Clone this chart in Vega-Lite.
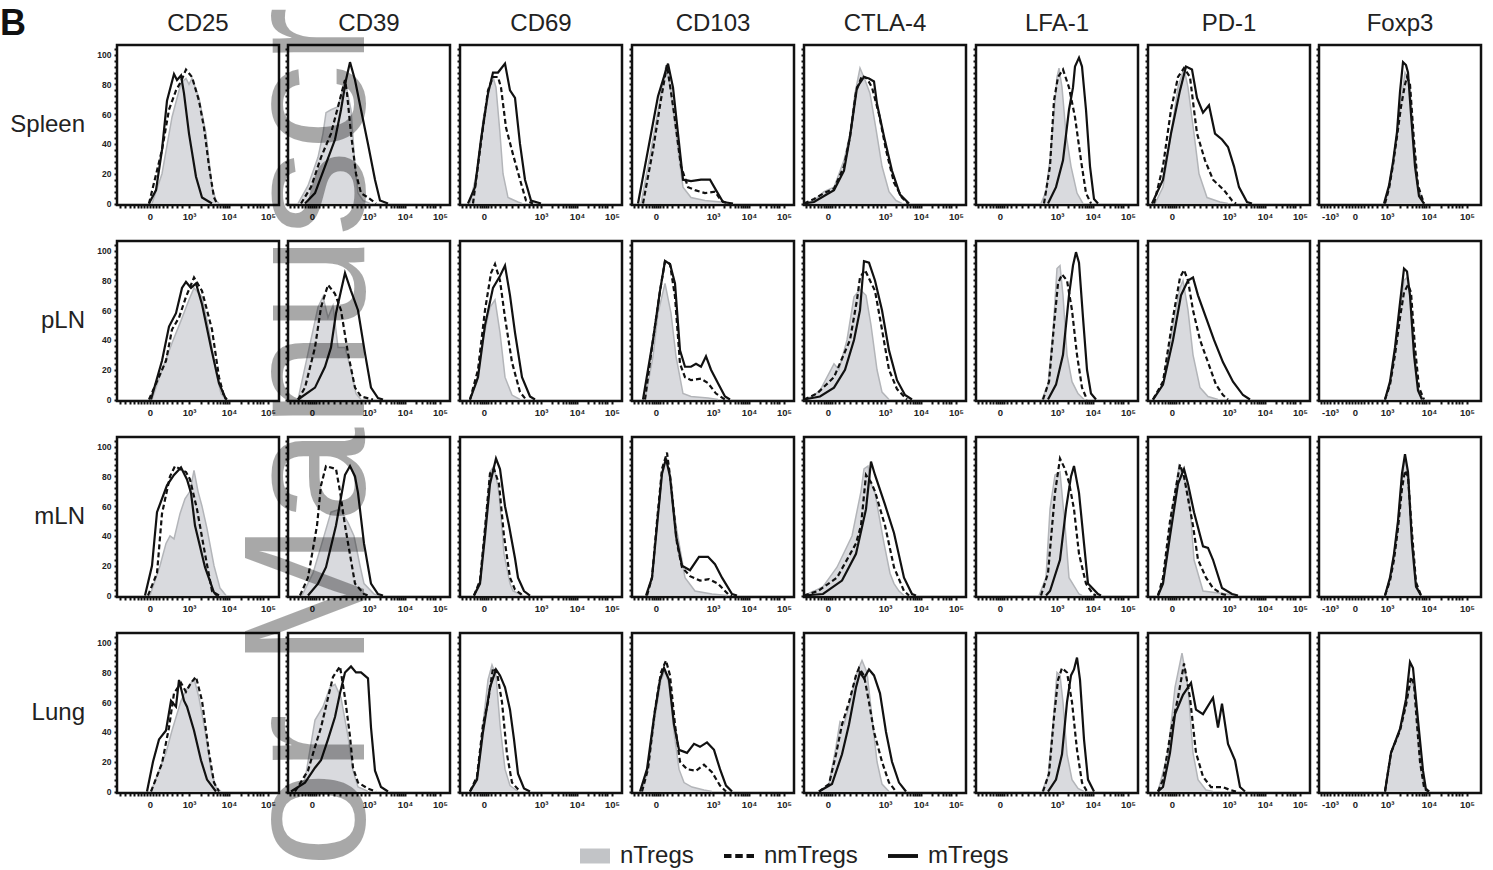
{
"$schema": "https://vega.github.io/schema/vega-lite/v6.json",
"padding": {"left": 0, "top": 6, "right": 0, "bottom": 0},
"background": "white",
"title": {"text": "or Manuscr", "orient": "left", "anchor": "middle", "frame": "bounds", "baseline": "alphabetic", "fontSize": 172, "fontWeight": "normal", "color": "rgba(0,0,0,0.34)", "font": "Liberation Sans", "offset": -536, "zindex": 1},
"config": {
 "font": "Liberation Sans",
 "view": {"stroke": "#111", "strokeWidth": 2.5},
 "axis": {"domain": false, "grid": false, "tickColor": "#111", "tickWidth": 2, "tickSize": 3, "labelFont": "Liberation Sans", "labelFontSize": 9.5, "labelFontWeight": "bold", "labelColor": "#222", "title": null, "labelOverlap": false, "labelFlush": false, "labelPadding": 3},
 "header": {"labelFont": "Liberation Sans", "labelFontSize": 24, "labelColor": "#222"}
},
"data": {"values": [
{"m":"CD25","t":"Spleen","s":"n","x":35,"y":0},{"m":"CD25","t":"Spleen","s":"n","x":45,"y":20},{"m":"CD25","t":"Spleen","s":"n","x":55,"y":58},{"m":"CD25","t":"Spleen","s":"n","x":64,"y":81},{"m":"CD25","t":"Spleen","s":"n","x":69,"y":84},{"m":"CD25","t":"Spleen","s":"n","x":72,"y":80},{"m":"CD25","t":"Spleen","s":"n","x":75,"y":84},{"m":"CD25","t":"Spleen","s":"n","x":82,"y":71},{"m":"CD25","t":"Spleen","s":"n","x":89,"y":47},{"m":"CD25","t":"Spleen","s":"n","x":95,"y":11},{"m":"CD25","t":"Spleen","s":"n","x":99,"y":2},{"m":"CD25","t":"Spleen","s":"n","x":102,"y":0},
{"m":"CD25","t":"Spleen","s":"nm","x":32,"y":0},{"m":"CD25","t":"Spleen","s":"nm","x":45,"y":36},{"m":"CD25","t":"Spleen","s":"nm","x":52,"y":63},{"m":"CD25","t":"Spleen","s":"nm","x":59,"y":76},{"m":"CD25","t":"Spleen","s":"nm","x":64,"y":82},{"m":"CD25","t":"Spleen","s":"nm","x":69,"y":90},{"m":"CD25","t":"Spleen","s":"nm","x":75,"y":85},{"m":"CD25","t":"Spleen","s":"nm","x":82,"y":69},{"m":"CD25","t":"Spleen","s":"nm","x":87,"y":51},{"m":"CD25","t":"Spleen","s":"nm","x":92,"y":25},{"m":"CD25","t":"Spleen","s":"nm","x":97,"y":4},{"m":"CD25","t":"Spleen","s":"nm","x":100,"y":0},
{"m":"CD25","t":"Spleen","s":"m","x":32,"y":0},{"m":"CD25","t":"Spleen","s":"m","x":39,"y":9},{"m":"CD25","t":"Spleen","s":"m","x":45,"y":36},{"m":"CD25","t":"Spleen","s":"m","x":50,"y":69},{"m":"CD25","t":"Spleen","s":"m","x":57,"y":87},{"m":"CD25","t":"Spleen","s":"m","x":60,"y":83},{"m":"CD25","t":"Spleen","s":"m","x":64,"y":86},{"m":"CD25","t":"Spleen","s":"m","x":67,"y":74},{"m":"CD25","t":"Spleen","s":"m","x":72,"y":47},{"m":"CD25","t":"Spleen","s":"m","x":79,"y":18},{"m":"CD25","t":"Spleen","s":"m","x":85,"y":4},{"m":"CD25","t":"Spleen","s":"m","x":95,"y":0},
{"m":"CD25","t":"pLN","s":"n","x":35,"y":0},{"m":"CD25","t":"pLN","s":"n","x":45,"y":20},{"m":"CD25","t":"pLN","s":"n","x":55,"y":38},{"m":"CD25","t":"pLN","s":"n","x":64,"y":53},{"m":"CD25","t":"pLN","s":"n","x":72,"y":67},{"m":"CD25","t":"pLN","s":"n","x":77,"y":75},{"m":"CD25","t":"pLN","s":"n","x":85,"y":69},{"m":"CD25","t":"pLN","s":"n","x":92,"y":47},{"m":"CD25","t":"pLN","s":"n","x":99,"y":18},{"m":"CD25","t":"pLN","s":"n","x":104,"y":4},{"m":"CD25","t":"pLN","s":"n","x":109,"y":0},
{"m":"CD25","t":"pLN","s":"nm","x":32,"y":0},{"m":"CD25","t":"pLN","s":"nm","x":49,"y":26},{"m":"CD25","t":"pLN","s":"nm","x":55,"y":47},{"m":"CD25","t":"pLN","s":"nm","x":62,"y":55},{"m":"CD25","t":"pLN","s":"nm","x":69,"y":69},{"m":"CD25","t":"pLN","s":"nm","x":77,"y":82},{"m":"CD25","t":"pLN","s":"nm","x":85,"y":73},{"m":"CD25","t":"pLN","s":"nm","x":95,"y":47},{"m":"CD25","t":"pLN","s":"nm","x":102,"y":15},{"m":"CD25","t":"pLN","s":"nm","x":107,"y":2},{"m":"CD25","t":"pLN","s":"nm","x":110,"y":0},
{"m":"CD25","t":"pLN","s":"m","x":34,"y":0},{"m":"CD25","t":"pLN","s":"m","x":45,"y":26},{"m":"CD25","t":"pLN","s":"m","x":52,"y":49},{"m":"CD25","t":"pLN","s":"m","x":59,"y":58},{"m":"CD25","t":"pLN","s":"m","x":65,"y":75},{"m":"CD25","t":"pLN","s":"m","x":69,"y":79},{"m":"CD25","t":"pLN","s":"m","x":74,"y":75},{"m":"CD25","t":"pLN","s":"m","x":79,"y":78},{"m":"CD25","t":"pLN","s":"m","x":85,"y":64},{"m":"CD25","t":"pLN","s":"m","x":94,"y":35},{"m":"CD25","t":"pLN","s":"m","x":102,"y":11},{"m":"CD25","t":"pLN","s":"m","x":109,"y":0},
{"m":"CD25","t":"mLN","s":"n","x":33,"y":0},{"m":"CD25","t":"mLN","s":"n","x":43,"y":20},{"m":"CD25","t":"mLN","s":"n","x":49,"y":35},{"m":"CD25","t":"mLN","s":"n","x":53,"y":40},{"m":"CD25","t":"mLN","s":"n","x":57,"y":38},{"m":"CD25","t":"mLN","s":"n","x":63,"y":55},{"m":"CD25","t":"mLN","s":"n","x":68,"y":65},{"m":"CD25","t":"mLN","s":"n","x":73,"y":70},{"m":"CD25","t":"mLN","s":"n","x":77,"y":84},{"m":"CD25","t":"mLN","s":"n","x":81,"y":70},{"m":"CD25","t":"mLN","s":"n","x":85,"y":60},{"m":"CD25","t":"mLN","s":"n","x":90,"y":45},{"m":"CD25","t":"mLN","s":"n","x":97,"y":20},{"m":"CD25","t":"mLN","s":"n","x":103,"y":5},{"m":"CD25","t":"mLN","s":"n","x":109,"y":0},
{"m":"CD25","t":"mLN","s":"nm","x":31,"y":0},{"m":"CD25","t":"mLN","s":"nm","x":40,"y":15},{"m":"CD25","t":"mLN","s":"nm","x":45,"y":55},{"m":"CD25","t":"mLN","s":"nm","x":53,"y":80},{"m":"CD25","t":"mLN","s":"nm","x":58,"y":87},{"m":"CD25","t":"mLN","s":"nm","x":63,"y":85},{"m":"CD25","t":"mLN","s":"nm","x":69,"y":83},{"m":"CD25","t":"mLN","s":"nm","x":73,"y":78},{"m":"CD25","t":"mLN","s":"nm","x":80,"y":58},{"m":"CD25","t":"mLN","s":"nm","x":88,"y":28},{"m":"CD25","t":"mLN","s":"nm","x":95,"y":3},{"m":"CD25","t":"mLN","s":"nm","x":100,"y":0},
{"m":"CD25","t":"mLN","s":"m","x":28,"y":0},{"m":"CD25","t":"mLN","s":"m","x":35,"y":20},{"m":"CD25","t":"mLN","s":"m","x":40,"y":56},{"m":"CD25","t":"mLN","s":"m","x":50,"y":74},{"m":"CD25","t":"mLN","s":"m","x":57,"y":81},{"m":"CD25","t":"mLN","s":"m","x":64,"y":86},{"m":"CD25","t":"mLN","s":"m","x":70,"y":78},{"m":"CD25","t":"mLN","s":"m","x":74,"y":69},{"m":"CD25","t":"mLN","s":"m","x":78,"y":47},{"m":"CD25","t":"mLN","s":"m","x":88,"y":19},{"m":"CD25","t":"mLN","s":"m","x":97,"y":2},{"m":"CD25","t":"mLN","s":"m","x":102,"y":0},
{"m":"CD25","t":"Lung","s":"n","x":34,"y":0},{"m":"CD25","t":"Lung","s":"n","x":42,"y":14},{"m":"CD25","t":"Lung","s":"n","x":49,"y":26},{"m":"CD25","t":"Lung","s":"n","x":55,"y":41},{"m":"CD25","t":"Lung","s":"n","x":64,"y":61},{"m":"CD25","t":"Lung","s":"n","x":69,"y":68},{"m":"CD25","t":"Lung","s":"n","x":74,"y":73},{"m":"CD25","t":"Lung","s":"n","x":77,"y":76},{"m":"CD25","t":"Lung","s":"n","x":82,"y":63},{"m":"CD25","t":"Lung","s":"n","x":89,"y":37},{"m":"CD25","t":"Lung","s":"n","x":94,"y":14},{"m":"CD25","t":"Lung","s":"n","x":99,"y":3},{"m":"CD25","t":"Lung","s":"n","x":104,"y":0},
{"m":"CD25","t":"Lung","s":"nm","x":34,"y":0},{"m":"CD25","t":"Lung","s":"nm","x":45,"y":19},{"m":"CD25","t":"Lung","s":"nm","x":52,"y":43},{"m":"CD25","t":"Lung","s":"nm","x":57,"y":66},{"m":"CD25","t":"Lung","s":"nm","x":64,"y":73},{"m":"CD25","t":"Lung","s":"nm","x":69,"y":67},{"m":"CD25","t":"Lung","s":"nm","x":74,"y":73},{"m":"CD25","t":"Lung","s":"nm","x":79,"y":77},{"m":"CD25","t":"Lung","s":"nm","x":85,"y":61},{"m":"CD25","t":"Lung","s":"nm","x":92,"y":26},{"m":"CD25","t":"Lung","s":"nm","x":97,"y":6},{"m":"CD25","t":"Lung","s":"nm","x":102,"y":0},
{"m":"CD25","t":"Lung","s":"m","x":30,"y":0},{"m":"CD25","t":"Lung","s":"m","x":36,"y":20},{"m":"CD25","t":"Lung","s":"m","x":42,"y":35},{"m":"CD25","t":"Lung","s":"m","x":49,"y":41},{"m":"CD25","t":"Lung","s":"m","x":54,"y":61},{"m":"CD25","t":"Lung","s":"m","x":59,"y":57},{"m":"CD25","t":"Lung","s":"m","x":62,"y":75},{"m":"CD25","t":"Lung","s":"m","x":67,"y":61},{"m":"CD25","t":"Lung","s":"m","x":70,"y":57},{"m":"CD25","t":"Lung","s":"m","x":77,"y":41},{"m":"CD25","t":"Lung","s":"m","x":84,"y":21},{"m":"CD25","t":"Lung","s":"m","x":90,"y":8},{"m":"CD25","t":"Lung","s":"m","x":99,"y":0},
{"m":"CD39","t":"Spleen","s":"n","x":10,"y":0},{"m":"CD39","t":"Spleen","s":"n","x":20,"y":12},{"m":"CD39","t":"Spleen","s":"n","x":30,"y":31},{"m":"CD39","t":"Spleen","s":"n","x":35,"y":47},{"m":"CD39","t":"Spleen","s":"n","x":38,"y":61},{"m":"CD39","t":"Spleen","s":"n","x":43,"y":63},{"m":"CD39","t":"Spleen","s":"n","x":50,"y":65},{"m":"CD39","t":"Spleen","s":"n","x":57,"y":83},{"m":"CD39","t":"Spleen","s":"n","x":63,"y":63},{"m":"CD39","t":"Spleen","s":"n","x":67,"y":25},{"m":"CD39","t":"Spleen","s":"n","x":70,"y":7},{"m":"CD39","t":"Spleen","s":"n","x":75,"y":2},{"m":"CD39","t":"Spleen","s":"n","x":82,"y":0},
{"m":"CD39","t":"Spleen","s":"nm","x":13,"y":0},{"m":"CD39","t":"Spleen","s":"nm","x":23,"y":11},{"m":"CD39","t":"Spleen","s":"nm","x":33,"y":31},{"m":"CD39","t":"Spleen","s":"nm","x":43,"y":47},{"m":"CD39","t":"Spleen","s":"nm","x":50,"y":65},{"m":"CD39","t":"Spleen","s":"nm","x":57,"y":83},{"m":"CD39","t":"Spleen","s":"nm","x":59,"y":74},{"m":"CD39","t":"Spleen","s":"nm","x":63,"y":47},{"m":"CD39","t":"Spleen","s":"nm","x":68,"y":20},{"m":"CD39","t":"Spleen","s":"nm","x":73,"y":7},{"m":"CD39","t":"Spleen","s":"nm","x":80,"y":4},{"m":"CD39","t":"Spleen","s":"nm","x":88,"y":0},
{"m":"CD39","t":"Spleen","s":"m","x":17,"y":0},{"m":"CD39","t":"Spleen","s":"m","x":27,"y":7},{"m":"CD39","t":"Spleen","s":"m","x":37,"y":25},{"m":"CD39","t":"Spleen","s":"m","x":47,"y":43},{"m":"CD39","t":"Spleen","s":"m","x":53,"y":63},{"m":"CD39","t":"Spleen","s":"m","x":58,"y":83},{"m":"CD39","t":"Spleen","s":"m","x":62,"y":95},{"m":"CD39","t":"Spleen","s":"m","x":67,"y":83},{"m":"CD39","t":"Spleen","s":"m","x":73,"y":63},{"m":"CD39","t":"Spleen","s":"m","x":80,"y":40},{"m":"CD39","t":"Spleen","s":"m","x":87,"y":16},{"m":"CD39","t":"Spleen","s":"m","x":92,"y":2},{"m":"CD39","t":"Spleen","s":"m","x":100,"y":0},
{"m":"CD39","t":"pLN","s":"n","x":10,"y":0},{"m":"CD39","t":"pLN","s":"n","x":20,"y":31},{"m":"CD39","t":"pLN","s":"n","x":30,"y":62},{"m":"CD39","t":"pLN","s":"n","x":35,"y":69},{"m":"CD39","t":"pLN","s":"n","x":40,"y":55},{"m":"CD39","t":"pLN","s":"n","x":45,"y":63},{"m":"CD39","t":"pLN","s":"n","x":50,"y":35},{"m":"CD39","t":"pLN","s":"n","x":57,"y":35},{"m":"CD39","t":"pLN","s":"n","x":63,"y":20},{"m":"CD39","t":"pLN","s":"n","x":68,"y":4},{"m":"CD39","t":"pLN","s":"n","x":73,"y":0},
{"m":"CD39","t":"pLN","s":"nm","x":10,"y":0},{"m":"CD39","t":"pLN","s":"nm","x":17,"y":8},{"m":"CD39","t":"pLN","s":"nm","x":27,"y":35},{"m":"CD39","t":"pLN","s":"nm","x":33,"y":62},{"m":"CD39","t":"pLN","s":"nm","x":40,"y":77},{"m":"CD39","t":"pLN","s":"nm","x":47,"y":71},{"m":"CD39","t":"pLN","s":"nm","x":53,"y":60},{"m":"CD39","t":"pLN","s":"nm","x":60,"y":31},{"m":"CD39","t":"pLN","s":"nm","x":67,"y":8},{"m":"CD39","t":"pLN","s":"nm","x":73,"y":2},{"m":"CD39","t":"pLN","s":"nm","x":85,"y":0},
{"m":"CD39","t":"pLN","s":"m","x":10,"y":0},{"m":"CD39","t":"pLN","s":"m","x":27,"y":8},{"m":"CD39","t":"pLN","s":"m","x":37,"y":22},{"m":"CD39","t":"pLN","s":"m","x":43,"y":35},{"m":"CD39","t":"pLN","s":"m","x":48,"y":58},{"m":"CD39","t":"pLN","s":"m","x":53,"y":73},{"m":"CD39","t":"pLN","s":"m","x":57,"y":85},{"m":"CD39","t":"pLN","s":"m","x":63,"y":73},{"m":"CD39","t":"pLN","s":"m","x":70,"y":60},{"m":"CD39","t":"pLN","s":"m","x":77,"y":31},{"m":"CD39","t":"pLN","s":"m","x":83,"y":8},{"m":"CD39","t":"pLN","s":"m","x":90,"y":1},{"m":"CD39","t":"pLN","s":"m","x":95,"y":0},
{"m":"CD39","t":"mLN","s":"n","x":14,"y":0},{"m":"CD39","t":"mLN","s":"n","x":25,"y":15},{"m":"CD39","t":"mLN","s":"n","x":33,"y":33},{"m":"CD39","t":"mLN","s":"n","x":43,"y":56},{"m":"CD39","t":"mLN","s":"n","x":52,"y":58},{"m":"CD39","t":"mLN","s":"n","x":60,"y":49},{"m":"CD39","t":"mLN","s":"n","x":66,"y":40},{"m":"CD39","t":"mLN","s":"n","x":72,"y":20},{"m":"CD39","t":"mLN","s":"n","x":76,"y":8},{"m":"CD39","t":"mLN","s":"n","x":86,"y":1},{"m":"CD39","t":"mLN","s":"n","x":90,"y":0},
{"m":"CD39","t":"mLN","s":"nm","x":12,"y":0},{"m":"CD39","t":"mLN","s":"nm","x":20,"y":12},{"m":"CD39","t":"mLN","s":"nm","x":29,"y":47},{"m":"CD39","t":"mLN","s":"nm","x":33,"y":74},{"m":"CD39","t":"mLN","s":"nm","x":38,"y":87},{"m":"CD39","t":"mLN","s":"nm","x":48,"y":85},{"m":"CD39","t":"mLN","s":"nm","x":52,"y":70},{"m":"CD39","t":"mLN","s":"nm","x":57,"y":47},{"m":"CD39","t":"mLN","s":"nm","x":67,"y":8},{"m":"CD39","t":"mLN","s":"nm","x":76,"y":1},{"m":"CD39","t":"mLN","s":"nm","x":80,"y":0},
{"m":"CD39","t":"mLN","s":"m","x":20,"y":0},{"m":"CD39","t":"mLN","s":"m","x":30,"y":8},{"m":"CD39","t":"mLN","s":"m","x":38,"y":19},{"m":"CD39","t":"mLN","s":"m","x":48,"y":47},{"m":"CD39","t":"mLN","s":"m","x":57,"y":81},{"m":"CD39","t":"mLN","s":"m","x":62,"y":87},{"m":"CD39","t":"mLN","s":"m","x":67,"y":80},{"m":"CD39","t":"mLN","s":"m","x":70,"y":69},{"m":"CD39","t":"mLN","s":"m","x":76,"y":35},{"m":"CD39","t":"mLN","s":"m","x":83,"y":8},{"m":"CD39","t":"mLN","s":"m","x":90,"y":1},{"m":"CD39","t":"mLN","s":"m","x":95,"y":0},
{"m":"CD39","t":"Lung","s":"n","x":7,"y":0},{"m":"CD39","t":"Lung","s":"n","x":17,"y":8},{"m":"CD39","t":"Lung","s":"n","x":27,"y":48},{"m":"CD39","t":"Lung","s":"n","x":35,"y":57},{"m":"CD39","t":"Lung","s":"n","x":42,"y":70},{"m":"CD39","t":"Lung","s":"n","x":47,"y":72},{"m":"CD39","t":"Lung","s":"n","x":53,"y":63},{"m":"CD39","t":"Lung","s":"n","x":60,"y":37},{"m":"CD39","t":"Lung","s":"n","x":65,"y":14},{"m":"CD39","t":"Lung","s":"n","x":70,"y":3},{"m":"CD39","t":"Lung","s":"n","x":77,"y":1},{"m":"CD39","t":"Lung","s":"n","x":80,"y":0},
{"m":"CD39","t":"Lung","s":"nm","x":7,"y":0},{"m":"CD39","t":"Lung","s":"nm","x":20,"y":14},{"m":"CD39","t":"Lung","s":"nm","x":27,"y":30},{"m":"CD39","t":"Lung","s":"nm","x":33,"y":43},{"m":"CD39","t":"Lung","s":"nm","x":40,"y":63},{"m":"CD39","t":"Lung","s":"nm","x":45,"y":77},{"m":"CD39","t":"Lung","s":"nm","x":52,"y":84},{"m":"CD39","t":"Lung","s":"nm","x":57,"y":63},{"m":"CD39","t":"Lung","s":"nm","x":62,"y":37},{"m":"CD39","t":"Lung","s":"nm","x":65,"y":16},{"m":"CD39","t":"Lung","s":"nm","x":70,"y":6},{"m":"CD39","t":"Lung","s":"nm","x":80,"y":2},{"m":"CD39","t":"Lung","s":"nm","x":88,"y":0},
{"m":"CD39","t":"Lung","s":"m","x":3,"y":0},{"m":"CD39","t":"Lung","s":"m","x":17,"y":6},{"m":"CD39","t":"Lung","s":"m","x":27,"y":16},{"m":"CD39","t":"Lung","s":"m","x":33,"y":21},{"m":"CD39","t":"Lung","s":"m","x":40,"y":35},{"m":"CD39","t":"Lung","s":"m","x":47,"y":50},{"m":"CD39","t":"Lung","s":"m","x":52,"y":66},{"m":"CD39","t":"Lung","s":"m","x":57,"y":80},{"m":"CD39","t":"Lung","s":"m","x":63,"y":84},{"m":"CD39","t":"Lung","s":"m","x":68,"y":80},{"m":"CD39","t":"Lung","s":"m","x":73,"y":80},{"m":"CD39","t":"Lung","s":"m","x":80,"y":76},{"m":"CD39","t":"Lung","s":"m","x":83,"y":43},{"m":"CD39","t":"Lung","s":"m","x":87,"y":14},{"m":"CD39","t":"Lung","s":"m","x":93,"y":3},{"m":"CD39","t":"Lung","s":"m","x":100,"y":0},
{"m":"CD69","t":"Spleen","s":"n","x":10,"y":0},{"m":"CD69","t":"Spleen","s":"n","x":18,"y":25},{"m":"CD69","t":"Spleen","s":"n","x":23,"y":56},{"m":"CD69","t":"Spleen","s":"n","x":28,"y":74},{"m":"CD69","t":"Spleen","s":"n","x":33,"y":85},{"m":"CD69","t":"Spleen","s":"n","x":36,"y":78},{"m":"CD69","t":"Spleen","s":"n","x":40,"y":47},{"m":"CD69","t":"Spleen","s":"n","x":43,"y":20},{"m":"CD69","t":"Spleen","s":"n","x":48,"y":4},{"m":"CD69","t":"Spleen","s":"n","x":58,"y":1},{"m":"CD69","t":"Spleen","s":"n","x":62,"y":0},
{"m":"CD69","t":"Spleen","s":"nm","x":13,"y":0},{"m":"CD69","t":"Spleen","s":"nm","x":20,"y":36},{"m":"CD69","t":"Spleen","s":"nm","x":28,"y":76},{"m":"CD69","t":"Spleen","s":"nm","x":33,"y":85},{"m":"CD69","t":"Spleen","s":"nm","x":38,"y":85},{"m":"CD69","t":"Spleen","s":"nm","x":41,"y":78},{"m":"CD69","t":"Spleen","s":"nm","x":46,"y":51},{"m":"CD69","t":"Spleen","s":"nm","x":53,"y":33},{"m":"CD69","t":"Spleen","s":"nm","x":60,"y":16},{"m":"CD69","t":"Spleen","s":"nm","x":66,"y":2},{"m":"CD69","t":"Spleen","s":"nm","x":73,"y":0},
{"m":"CD69","t":"Spleen","s":"m","x":8,"y":0},{"m":"CD69","t":"Spleen","s":"m","x":15,"y":11},{"m":"CD69","t":"Spleen","s":"m","x":21,"y":43},{"m":"CD69","t":"Spleen","s":"m","x":28,"y":74},{"m":"CD69","t":"Spleen","s":"m","x":33,"y":88},{"m":"CD69","t":"Spleen","s":"m","x":38,"y":88},{"m":"CD69","t":"Spleen","s":"m","x":45,"y":94},{"m":"CD69","t":"Spleen","s":"m","x":50,"y":76},{"m":"CD69","t":"Spleen","s":"m","x":55,"y":71},{"m":"CD69","t":"Spleen","s":"m","x":60,"y":40},{"m":"CD69","t":"Spleen","s":"m","x":65,"y":16},{"m":"CD69","t":"Spleen","s":"m","x":71,"y":2},{"m":"CD69","t":"Spleen","s":"m","x":81,"y":0},
{"m":"CD69","t":"pLN","s":"n","x":10,"y":0},{"m":"CD69","t":"pLN","s":"n","x":17,"y":12},{"m":"CD69","t":"pLN","s":"n","x":23,"y":40},{"m":"CD69","t":"pLN","s":"n","x":30,"y":62},{"m":"CD69","t":"pLN","s":"n","x":35,"y":67},{"m":"CD69","t":"pLN","s":"n","x":40,"y":45},{"m":"CD69","t":"pLN","s":"n","x":45,"y":15},{"m":"CD69","t":"pLN","s":"n","x":52,"y":3},{"m":"CD69","t":"pLN","s":"n","x":60,"y":0},
{"m":"CD69","t":"pLN","s":"nm","x":10,"y":0},{"m":"CD69","t":"pLN","s":"nm","x":18,"y":20},{"m":"CD69","t":"pLN","s":"nm","x":25,"y":60},{"m":"CD69","t":"pLN","s":"nm","x":31,"y":85},{"m":"CD69","t":"pLN","s":"nm","x":35,"y":91},{"m":"CD69","t":"pLN","s":"nm","x":40,"y":80},{"m":"CD69","t":"pLN","s":"nm","x":45,"y":55},{"m":"CD69","t":"pLN","s":"nm","x":52,"y":25},{"m":"CD69","t":"pLN","s":"nm","x":60,"y":5},{"m":"CD69","t":"pLN","s":"nm","x":66,"y":0},
{"m":"CD69","t":"pLN","s":"m","x":10,"y":0},{"m":"CD69","t":"pLN","s":"m","x":18,"y":15},{"m":"CD69","t":"pLN","s":"m","x":25,"y":50},{"m":"CD69","t":"pLN","s":"m","x":33,"y":75},{"m":"CD69","t":"pLN","s":"m","x":40,"y":83},{"m":"CD69","t":"pLN","s":"m","x":45,"y":90},{"m":"CD69","t":"pLN","s":"m","x":50,"y":70},{"m":"CD69","t":"pLN","s":"m","x":55,"y":45},{"m":"CD69","t":"pLN","s":"m","x":62,"y":15},{"m":"CD69","t":"pLN","s":"m","x":70,"y":2},{"m":"CD69","t":"pLN","s":"m","x":75,"y":0},
{"m":"CD69","t":"mLN","s":"n","x":14,"y":0},{"m":"CD69","t":"mLN","s":"n","x":20,"y":10},{"m":"CD69","t":"mLN","s":"n","x":25,"y":47},{"m":"CD69","t":"mLN","s":"n","x":30,"y":83},{"m":"CD69","t":"mLN","s":"n","x":34,"y":87},{"m":"CD69","t":"mLN","s":"n","x":39,"y":69},{"m":"CD69","t":"mLN","s":"n","x":44,"y":28},{"m":"CD69","t":"mLN","s":"n","x":50,"y":8},{"m":"CD69","t":"mLN","s":"n","x":53,"y":3},{"m":"CD69","t":"mLN","s":"n","x":63,"y":0},
{"m":"CD69","t":"mLN","s":"nm","x":14,"y":0},{"m":"CD69","t":"mLN","s":"nm","x":20,"y":10},{"m":"CD69","t":"mLN","s":"nm","x":25,"y":45},{"m":"CD69","t":"mLN","s":"nm","x":30,"y":82},{"m":"CD69","t":"mLN","s":"nm","x":34,"y":85},{"m":"CD69","t":"mLN","s":"nm","x":39,"y":75},{"m":"CD69","t":"mLN","s":"nm","x":44,"y":40},{"m":"CD69","t":"mLN","s":"nm","x":50,"y":12},{"m":"CD69","t":"mLN","s":"nm","x":55,"y":4},{"m":"CD69","t":"mLN","s":"nm","x":63,"y":0},
{"m":"CD69","t":"mLN","s":"m","x":14,"y":0},{"m":"CD69","t":"mLN","s":"m","x":20,"y":8},{"m":"CD69","t":"mLN","s":"m","x":25,"y":40},{"m":"CD69","t":"mLN","s":"m","x":30,"y":75},{"m":"CD69","t":"mLN","s":"m","x":36,"y":92},{"m":"CD69","t":"mLN","s":"m","x":40,"y":85},{"m":"CD69","t":"mLN","s":"m","x":45,"y":60},{"m":"CD69","t":"mLN","s":"m","x":49,"y":47},{"m":"CD69","t":"mLN","s":"m","x":55,"y":25},{"m":"CD69","t":"mLN","s":"m","x":58,"y":12},{"m":"CD69","t":"mLN","s":"m","x":64,"y":3},{"m":"CD69","t":"mLN","s":"m","x":70,"y":0},
{"m":"CD69","t":"Lung","s":"n","x":10,"y":0},{"m":"CD69","t":"Lung","s":"n","x":17,"y":10},{"m":"CD69","t":"Lung","s":"n","x":23,"y":45},{"m":"CD69","t":"Lung","s":"n","x":28,"y":75},{"m":"CD69","t":"Lung","s":"n","x":32,"y":85},{"m":"CD69","t":"Lung","s":"n","x":36,"y":78},{"m":"CD69","t":"Lung","s":"n","x":40,"y":45},{"m":"CD69","t":"Lung","s":"n","x":45,"y":15},{"m":"CD69","t":"Lung","s":"n","x":50,"y":4},{"m":"CD69","t":"Lung","s":"n","x":58,"y":0},
{"m":"CD69","t":"Lung","s":"nm","x":10,"y":0},{"m":"CD69","t":"Lung","s":"nm","x":17,"y":10},{"m":"CD69","t":"Lung","s":"nm","x":23,"y":45},{"m":"CD69","t":"Lung","s":"nm","x":28,"y":60},{"m":"CD69","t":"Lung","s":"nm","x":33,"y":83},{"m":"CD69","t":"Lung","s":"nm","x":37,"y":80},{"m":"CD69","t":"Lung","s":"nm","x":42,"y":60},{"m":"CD69","t":"Lung","s":"nm","x":47,"y":25},{"m":"CD69","t":"Lung","s":"nm","x":52,"y":6},{"m":"CD69","t":"Lung","s":"nm","x":60,"y":0},
{"m":"CD69","t":"Lung","s":"m","x":10,"y":0},{"m":"CD69","t":"Lung","s":"m","x":17,"y":8},{"m":"CD69","t":"Lung","s":"m","x":23,"y":40},{"m":"CD69","t":"Lung","s":"m","x":30,"y":70},{"m":"CD69","t":"Lung","s":"m","x":36,"y":82},{"m":"CD69","t":"Lung","s":"m","x":40,"y":78},{"m":"CD69","t":"Lung","s":"m","x":45,"y":70},{"m":"CD69","t":"Lung","s":"m","x":50,"y":55},{"m":"CD69","t":"Lung","s":"m","x":54,"y":35},{"m":"CD69","t":"Lung","s":"m","x":58,"y":12},{"m":"CD69","t":"Lung","s":"m","x":64,"y":2},{"m":"CD69","t":"Lung","s":"m","x":70,"y":0},
{"m":"CD103","t":"Spleen","s":"n","x":9,"y":0},{"m":"CD103","t":"Spleen","s":"n","x":19,"y":36},{"m":"CD103","t":"Spleen","s":"n","x":28,"y":70},{"m":"CD103","t":"Spleen","s":"n","x":34,"y":93},{"m":"CD103","t":"Spleen","s":"n","x":39,"y":76},{"m":"CD103","t":"Spleen","s":"n","x":46,"y":36},{"m":"CD103","t":"Spleen","s":"n","x":51,"y":11},{"m":"CD103","t":"Spleen","s":"n","x":59,"y":4},{"m":"CD103","t":"Spleen","s":"n","x":73,"y":2},{"m":"CD103","t":"Spleen","s":"n","x":89,"y":1},{"m":"CD103","t":"Spleen","s":"n","x":101,"y":0},
{"m":"CD103","t":"Spleen","s":"nm","x":11,"y":0},{"m":"CD103","t":"Spleen","s":"nm","x":21,"y":36},{"m":"CD103","t":"Spleen","s":"nm","x":29,"y":70},{"m":"CD103","t":"Spleen","s":"nm","x":35,"y":93},{"m":"CD103","t":"Spleen","s":"nm","x":42,"y":61},{"m":"CD103","t":"Spleen","s":"nm","x":49,"y":25},{"m":"CD103","t":"Spleen","s":"nm","x":56,"y":11},{"m":"CD103","t":"Spleen","s":"nm","x":63,"y":9},{"m":"CD103","t":"Spleen","s":"nm","x":73,"y":7},{"m":"CD103","t":"Spleen","s":"nm","x":83,"y":8},{"m":"CD103","t":"Spleen","s":"nm","x":89,"y":2},{"m":"CD103","t":"Spleen","s":"nm","x":96,"y":0},
{"m":"CD103","t":"Spleen","s":"m","x":6,"y":0},{"m":"CD103","t":"Spleen","s":"m","x":16,"y":36},{"m":"CD103","t":"Spleen","s":"m","x":26,"y":72},{"m":"CD103","t":"Spleen","s":"m","x":36,"y":94},{"m":"CD103","t":"Spleen","s":"m","x":41,"y":78},{"m":"CD103","t":"Spleen","s":"m","x":46,"y":47},{"m":"CD103","t":"Spleen","s":"m","x":51,"y":16},{"m":"CD103","t":"Spleen","s":"m","x":59,"y":15},{"m":"CD103","t":"Spleen","s":"m","x":69,"y":16},{"m":"CD103","t":"Spleen","s":"m","x":78,"y":16},{"m":"CD103","t":"Spleen","s":"m","x":84,"y":9},{"m":"CD103","t":"Spleen","s":"m","x":91,"y":1},{"m":"CD103","t":"Spleen","s":"m","x":101,"y":0},
{"m":"CD103","t":"pLN","s":"n","x":13,"y":0},{"m":"CD103","t":"pLN","s":"n","x":21,"y":29},{"m":"CD103","t":"pLN","s":"n","x":26,"y":58},{"m":"CD103","t":"pLN","s":"n","x":33,"y":78},{"m":"CD103","t":"pLN","s":"n","x":39,"y":58},{"m":"CD103","t":"pLN","s":"n","x":44,"y":29},{"m":"CD103","t":"pLN","s":"n","x":51,"y":4},{"m":"CD103","t":"pLN","s":"n","x":59,"y":2},{"m":"CD103","t":"pLN","s":"n","x":76,"y":1},{"m":"CD103","t":"pLN","s":"n","x":86,"y":0},
{"m":"CD103","t":"pLN","s":"nm","x":13,"y":0},{"m":"CD103","t":"pLN","s":"nm","x":21,"y":40},{"m":"CD103","t":"pLN","s":"nm","x":28,"y":73},{"m":"CD103","t":"pLN","s":"nm","x":33,"y":93},{"m":"CD103","t":"pLN","s":"nm","x":38,"y":91},{"m":"CD103","t":"pLN","s":"nm","x":43,"y":69},{"m":"CD103","t":"pLN","s":"nm","x":48,"y":24},{"m":"CD103","t":"pLN","s":"nm","x":53,"y":15},{"m":"CD103","t":"pLN","s":"nm","x":59,"y":13},{"m":"CD103","t":"pLN","s":"nm","x":69,"y":14},{"m":"CD103","t":"pLN","s":"nm","x":76,"y":11},{"m":"CD103","t":"pLN","s":"nm","x":84,"y":4},{"m":"CD103","t":"pLN","s":"nm","x":93,"y":0},
{"m":"CD103","t":"pLN","s":"m","x":11,"y":0},{"m":"CD103","t":"pLN","s":"m","x":21,"y":40},{"m":"CD103","t":"pLN","s":"m","x":28,"y":73},{"m":"CD103","t":"pLN","s":"m","x":33,"y":93},{"m":"CD103","t":"pLN","s":"m","x":38,"y":91},{"m":"CD103","t":"pLN","s":"m","x":43,"y":78},{"m":"CD103","t":"pLN","s":"m","x":48,"y":33},{"m":"CD103","t":"pLN","s":"m","x":53,"y":22},{"m":"CD103","t":"pLN","s":"m","x":59,"y":22},{"m":"CD103","t":"pLN","s":"m","x":64,"y":24},{"m":"CD103","t":"pLN","s":"m","x":69,"y":22},{"m":"CD103","t":"pLN","s":"m","x":74,"y":29},{"m":"CD103","t":"pLN","s":"m","x":79,"y":20},{"m":"CD103","t":"pLN","s":"m","x":86,"y":11},{"m":"CD103","t":"pLN","s":"m","x":93,"y":2},{"m":"CD103","t":"pLN","s":"m","x":98,"y":0},
{"m":"CD103","t":"mLN","s":"n","x":15,"y":0},{"m":"CD103","t":"mLN","s":"n","x":20,"y":12},{"m":"CD103","t":"mLN","s":"n","x":25,"y":47},{"m":"CD103","t":"mLN","s":"n","x":30,"y":80},{"m":"CD103","t":"mLN","s":"n","x":34,"y":92},{"m":"CD103","t":"mLN","s":"n","x":38,"y":80},{"m":"CD103","t":"mLN","s":"n","x":44,"y":47},{"m":"CD103","t":"mLN","s":"n","x":53,"y":12},{"m":"CD103","t":"mLN","s":"n","x":63,"y":3},{"m":"CD103","t":"mLN","s":"n","x":80,"y":1},{"m":"CD103","t":"mLN","s":"n","x":95,"y":0},
{"m":"CD103","t":"mLN","s":"nm","x":15,"y":0},{"m":"CD103","t":"mLN","s":"nm","x":20,"y":12},{"m":"CD103","t":"mLN","s":"nm","x":25,"y":50},{"m":"CD103","t":"mLN","s":"nm","x":30,"y":85},{"m":"CD103","t":"mLN","s":"nm","x":35,"y":96},{"m":"CD103","t":"mLN","s":"nm","x":39,"y":75},{"m":"CD103","t":"mLN","s":"nm","x":45,"y":35},{"m":"CD103","t":"mLN","s":"nm","x":50,"y":19},{"m":"CD103","t":"mLN","s":"nm","x":58,"y":13},{"m":"CD103","t":"mLN","s":"nm","x":68,"y":10},{"m":"CD103","t":"mLN","s":"nm","x":77,"y":11},{"m":"CD103","t":"mLN","s":"nm","x":86,"y":8},{"m":"CD103","t":"mLN","s":"nm","x":96,"y":1},{"m":"CD103","t":"mLN","s":"nm","x":100,"y":0},
{"m":"CD103","t":"mLN","s":"m","x":14,"y":0},{"m":"CD103","t":"mLN","s":"m","x":20,"y":12},{"m":"CD103","t":"mLN","s":"m","x":25,"y":47},{"m":"CD103","t":"mLN","s":"m","x":30,"y":82},{"m":"CD103","t":"mLN","s":"m","x":34,"y":92},{"m":"CD103","t":"mLN","s":"m","x":38,"y":80},{"m":"CD103","t":"mLN","s":"m","x":44,"y":40},{"m":"CD103","t":"mLN","s":"m","x":50,"y":20},{"m":"CD103","t":"mLN","s":"m","x":58,"y":17},{"m":"CD103","t":"mLN","s":"m","x":67,"y":26},{"m":"CD103","t":"mLN","s":"m","x":76,"y":26},{"m":"CD103","t":"mLN","s":"m","x":83,"y":21},{"m":"CD103","t":"mLN","s":"m","x":90,"y":12},{"m":"CD103","t":"mLN","s":"m","x":100,"y":1},{"m":"CD103","t":"mLN","s":"m","x":105,"y":0},
{"m":"CD103","t":"Lung","s":"n","x":10,"y":0},{"m":"CD103","t":"Lung","s":"n","x":16,"y":15},{"m":"CD103","t":"Lung","s":"n","x":23,"y":50},{"m":"CD103","t":"Lung","s":"n","x":29,"y":75},{"m":"CD103","t":"Lung","s":"n","x":33,"y":81},{"m":"CD103","t":"Lung","s":"n","x":37,"y":72},{"m":"CD103","t":"Lung","s":"n","x":42,"y":40},{"m":"CD103","t":"Lung","s":"n","x":47,"y":15},{"m":"CD103","t":"Lung","s":"n","x":52,"y":6},{"m":"CD103","t":"Lung","s":"n","x":60,"y":3},{"m":"CD103","t":"Lung","s":"n","x":72,"y":1},{"m":"CD103","t":"Lung","s":"n","x":80,"y":0},
{"m":"CD103","t":"Lung","s":"nm","x":10,"y":0},{"m":"CD103","t":"Lung","s":"nm","x":16,"y":15},{"m":"CD103","t":"Lung","s":"nm","x":23,"y":55},{"m":"CD103","t":"Lung","s":"nm","x":29,"y":80},{"m":"CD103","t":"Lung","s":"nm","x":34,"y":88},{"m":"CD103","t":"Lung","s":"nm","x":38,"y":78},{"m":"CD103","t":"Lung","s":"nm","x":43,"y":45},{"m":"CD103","t":"Lung","s":"nm","x":48,"y":20},{"m":"CD103","t":"Lung","s":"nm","x":55,"y":15},{"m":"CD103","t":"Lung","s":"nm","x":64,"y":14},{"m":"CD103","t":"Lung","s":"nm","x":72,"y":18},{"m":"CD103","t":"Lung","s":"nm","x":80,"y":13},{"m":"CD103","t":"Lung","s":"nm","x":88,"y":4},{"m":"CD103","t":"Lung","s":"nm","x":94,"y":0},
{"m":"CD103","t":"Lung","s":"m","x":8,"y":0},{"m":"CD103","t":"Lung","s":"m","x":15,"y":15},{"m":"CD103","t":"Lung","s":"m","x":22,"y":50},{"m":"CD103","t":"Lung","s":"m","x":28,"y":75},{"m":"CD103","t":"Lung","s":"m","x":32,"y":83},{"m":"CD103","t":"Lung","s":"m","x":37,"y":75},{"m":"CD103","t":"Lung","s":"m","x":42,"y":45},{"m":"CD103","t":"Lung","s":"m","x":47,"y":28},{"m":"CD103","t":"Lung","s":"m","x":55,"y":26},{"m":"CD103","t":"Lung","s":"m","x":62,"y":32},{"m":"CD103","t":"Lung","s":"m","x":68,"y":30},{"m":"CD103","t":"Lung","s":"m","x":75,"y":33},{"m":"CD103","t":"Lung","s":"m","x":82,"y":28},{"m":"CD103","t":"Lung","s":"m","x":88,"y":15},{"m":"CD103","t":"Lung","s":"m","x":94,"y":4},{"m":"CD103","t":"Lung","s":"m","x":100,"y":0},
{"m":"CTLA-4","t":"Spleen","s":"n","x":0,"y":0},{"m":"CTLA-4","t":"Spleen","s":"n","x":10,"y":2},{"m":"CTLA-4","t":"Spleen","s":"n","x":20,"y":8},{"m":"CTLA-4","t":"Spleen","s":"n","x":30,"y":11},{"m":"CTLA-4","t":"Spleen","s":"n","x":40,"y":29},{"m":"CTLA-4","t":"Spleen","s":"n","x":46,"y":47},{"m":"CTLA-4","t":"Spleen","s":"n","x":51,"y":74},{"m":"CTLA-4","t":"Spleen","s":"n","x":56,"y":91},{"m":"CTLA-4","t":"Spleen","s":"n","x":61,"y":83},{"m":"CTLA-4","t":"Spleen","s":"n","x":66,"y":74},{"m":"CTLA-4","t":"Spleen","s":"n","x":72,"y":50},{"m":"CTLA-4","t":"Spleen","s":"n","x":78,"y":25},{"m":"CTLA-4","t":"Spleen","s":"n","x":85,"y":8},{"m":"CTLA-4","t":"Spleen","s":"n","x":92,"y":2},{"m":"CTLA-4","t":"Spleen","s":"n","x":98,"y":0},
{"m":"CTLA-4","t":"Spleen","s":"nm","x":0,"y":0},{"m":"CTLA-4","t":"Spleen","s":"nm","x":10,"y":3},{"m":"CTLA-4","t":"Spleen","s":"nm","x":20,"y":7},{"m":"CTLA-4","t":"Spleen","s":"nm","x":30,"y":10},{"m":"CTLA-4","t":"Spleen","s":"nm","x":40,"y":25},{"m":"CTLA-4","t":"Spleen","s":"nm","x":46,"y":45},{"m":"CTLA-4","t":"Spleen","s":"nm","x":52,"y":75},{"m":"CTLA-4","t":"Spleen","s":"nm","x":58,"y":86},{"m":"CTLA-4","t":"Spleen","s":"nm","x":63,"y":84},{"m":"CTLA-4","t":"Spleen","s":"nm","x":68,"y":78},{"m":"CTLA-4","t":"Spleen","s":"nm","x":75,"y":60},{"m":"CTLA-4","t":"Spleen","s":"nm","x":82,"y":36},{"m":"CTLA-4","t":"Spleen","s":"nm","x":90,"y":14},{"m":"CTLA-4","t":"Spleen","s":"nm","x":98,"y":4},{"m":"CTLA-4","t":"Spleen","s":"nm","x":104,"y":0},
{"m":"CTLA-4","t":"Spleen","s":"m","x":0,"y":0},{"m":"CTLA-4","t":"Spleen","s":"m","x":10,"y":1},{"m":"CTLA-4","t":"Spleen","s":"m","x":20,"y":5},{"m":"CTLA-4","t":"Spleen","s":"m","x":30,"y":9},{"m":"CTLA-4","t":"Spleen","s":"m","x":40,"y":22},{"m":"CTLA-4","t":"Spleen","s":"m","x":46,"y":45},{"m":"CTLA-4","t":"Spleen","s":"m","x":53,"y":78},{"m":"CTLA-4","t":"Spleen","s":"m","x":60,"y":85},{"m":"CTLA-4","t":"Spleen","s":"m","x":65,"y":84},{"m":"CTLA-4","t":"Spleen","s":"m","x":70,"y":82},{"m":"CTLA-4","t":"Spleen","s":"m","x":73,"y":67},{"m":"CTLA-4","t":"Spleen","s":"m","x":80,"y":45},{"m":"CTLA-4","t":"Spleen","s":"m","x":88,"y":22},{"m":"CTLA-4","t":"Spleen","s":"m","x":96,"y":6},{"m":"CTLA-4","t":"Spleen","s":"m","x":105,"y":0},
{"m":"CTLA-4","t":"pLN","s":"n","x":0,"y":0},{"m":"CTLA-4","t":"pLN","s":"n","x":8,"y":2},{"m":"CTLA-4","t":"pLN","s":"n","x":16,"y":6},{"m":"CTLA-4","t":"pLN","s":"n","x":30,"y":24},{"m":"CTLA-4","t":"pLN","s":"n","x":35,"y":20},{"m":"CTLA-4","t":"pLN","s":"n","x":43,"y":40},{"m":"CTLA-4","t":"pLN","s":"n","x":50,"y":69},{"m":"CTLA-4","t":"pLN","s":"n","x":56,"y":74},{"m":"CTLA-4","t":"pLN","s":"n","x":62,"y":70},{"m":"CTLA-4","t":"pLN","s":"n","x":67,"y":50},{"m":"CTLA-4","t":"pLN","s":"n","x":73,"y":20},{"m":"CTLA-4","t":"pLN","s":"n","x":78,"y":5},{"m":"CTLA-4","t":"pLN","s":"n","x":85,"y":0},
{"m":"CTLA-4","t":"pLN","s":"nm","x":0,"y":0},{"m":"CTLA-4","t":"pLN","s":"nm","x":13,"y":4},{"m":"CTLA-4","t":"pLN","s":"nm","x":30,"y":15},{"m":"CTLA-4","t":"pLN","s":"nm","x":46,"y":40},{"m":"CTLA-4","t":"pLN","s":"nm","x":53,"y":67},{"m":"CTLA-4","t":"pLN","s":"nm","x":56,"y":82},{"m":"CTLA-4","t":"pLN","s":"nm","x":61,"y":87},{"m":"CTLA-4","t":"pLN","s":"nm","x":66,"y":80},{"m":"CTLA-4","t":"pLN","s":"nm","x":71,"y":73},{"m":"CTLA-4","t":"pLN","s":"nm","x":78,"y":47},{"m":"CTLA-4","t":"pLN","s":"nm","x":85,"y":20},{"m":"CTLA-4","t":"pLN","s":"nm","x":93,"y":7},{"m":"CTLA-4","t":"pLN","s":"nm","x":103,"y":0},
{"m":"CTLA-4","t":"pLN","s":"m","x":0,"y":0},{"m":"CTLA-4","t":"pLN","s":"m","x":16,"y":2},{"m":"CTLA-4","t":"pLN","s":"m","x":30,"y":8},{"m":"CTLA-4","t":"pLN","s":"m","x":41,"y":20},{"m":"CTLA-4","t":"pLN","s":"m","x":50,"y":40},{"m":"CTLA-4","t":"pLN","s":"m","x":56,"y":60},{"m":"CTLA-4","t":"pLN","s":"m","x":60,"y":93},{"m":"CTLA-4","t":"pLN","s":"m","x":65,"y":92},{"m":"CTLA-4","t":"pLN","s":"m","x":71,"y":80},{"m":"CTLA-4","t":"pLN","s":"m","x":78,"y":60},{"m":"CTLA-4","t":"pLN","s":"m","x":85,"y":33},{"m":"CTLA-4","t":"pLN","s":"m","x":93,"y":13},{"m":"CTLA-4","t":"pLN","s":"m","x":101,"y":3},{"m":"CTLA-4","t":"pLN","s":"m","x":108,"y":0},
{"m":"CTLA-4","t":"mLN","s":"n","x":0,"y":0},{"m":"CTLA-4","t":"mLN","s":"n","x":10,"y":3},{"m":"CTLA-4","t":"mLN","s":"n","x":19,"y":6},{"m":"CTLA-4","t":"mLN","s":"n","x":33,"y":19},{"m":"CTLA-4","t":"mLN","s":"n","x":48,"y":40},{"m":"CTLA-4","t":"mLN","s":"n","x":57,"y":70},{"m":"CTLA-4","t":"mLN","s":"n","x":60,"y":85},{"m":"CTLA-4","t":"mLN","s":"n","x":64,"y":87},{"m":"CTLA-4","t":"mLN","s":"n","x":67,"y":75},{"m":"CTLA-4","t":"mLN","s":"n","x":71,"y":69},{"m":"CTLA-4","t":"mLN","s":"n","x":76,"y":50},{"m":"CTLA-4","t":"mLN","s":"n","x":80,"y":35},{"m":"CTLA-4","t":"mLN","s":"n","x":86,"y":15},{"m":"CTLA-4","t":"mLN","s":"n","x":90,"y":8},{"m":"CTLA-4","t":"mLN","s":"n","x":95,"y":3},{"m":"CTLA-4","t":"mLN","s":"n","x":100,"y":0},
{"m":"CTLA-4","t":"mLN","s":"nm","x":0,"y":0},{"m":"CTLA-4","t":"mLN","s":"nm","x":14,"y":3},{"m":"CTLA-4","t":"mLN","s":"nm","x":33,"y":12},{"m":"CTLA-4","t":"mLN","s":"nm","x":52,"y":35},{"m":"CTLA-4","t":"mLN","s":"nm","x":57,"y":47},{"m":"CTLA-4","t":"mLN","s":"nm","x":62,"y":81},{"m":"CTLA-4","t":"mLN","s":"nm","x":67,"y":76},{"m":"CTLA-4","t":"mLN","s":"nm","x":71,"y":70},{"m":"CTLA-4","t":"mLN","s":"nm","x":81,"y":47},{"m":"CTLA-4","t":"mLN","s":"nm","x":90,"y":19},{"m":"CTLA-4","t":"mLN","s":"nm","x":100,"y":3},{"m":"CTLA-4","t":"mLN","s":"nm","x":105,"y":0},
{"m":"CTLA-4","t":"mLN","s":"m","x":0,"y":0},{"m":"CTLA-4","t":"mLN","s":"m","x":19,"y":1},{"m":"CTLA-4","t":"mLN","s":"m","x":38,"y":10},{"m":"CTLA-4","t":"mLN","s":"m","x":52,"y":28},{"m":"CTLA-4","t":"mLN","s":"m","x":62,"y":58},{"m":"CTLA-4","t":"mLN","s":"m","x":67,"y":90},{"m":"CTLA-4","t":"mLN","s":"m","x":71,"y":81},{"m":"CTLA-4","t":"mLN","s":"m","x":81,"y":61},{"m":"CTLA-4","t":"mLN","s":"m","x":90,"y":42},{"m":"CTLA-4","t":"mLN","s":"m","x":100,"y":12},{"m":"CTLA-4","t":"mLN","s":"m","x":108,"y":1},{"m":"CTLA-4","t":"mLN","s":"m","x":112,"y":0},
{"m":"CTLA-4","t":"Lung","s":"n","x":15,"y":0},{"m":"CTLA-4","t":"Lung","s":"n","x":25,"y":5},{"m":"CTLA-4","t":"Lung","s":"n","x":32,"y":30},{"m":"CTLA-4","t":"Lung","s":"n","x":36,"y":47},{"m":"CTLA-4","t":"Lung","s":"n","x":40,"y":45},{"m":"CTLA-4","t":"Lung","s":"n","x":46,"y":60},{"m":"CTLA-4","t":"Lung","s":"n","x":53,"y":80},{"m":"CTLA-4","t":"Lung","s":"n","x":58,"y":88},{"m":"CTLA-4","t":"Lung","s":"n","x":63,"y":80},{"m":"CTLA-4","t":"Lung","s":"n","x":68,"y":50},{"m":"CTLA-4","t":"Lung","s":"n","x":73,"y":20},{"m":"CTLA-4","t":"Lung","s":"n","x":78,"y":5},{"m":"CTLA-4","t":"Lung","s":"n","x":85,"y":0},
{"m":"CTLA-4","t":"Lung","s":"nm","x":15,"y":0},{"m":"CTLA-4","t":"Lung","s":"nm","x":25,"y":5},{"m":"CTLA-4","t":"Lung","s":"nm","x":32,"y":25},{"m":"CTLA-4","t":"Lung","s":"nm","x":38,"y":45},{"m":"CTLA-4","t":"Lung","s":"nm","x":45,"y":60},{"m":"CTLA-4","t":"Lung","s":"nm","x":52,"y":78},{"m":"CTLA-4","t":"Lung","s":"nm","x":55,"y":83},{"m":"CTLA-4","t":"Lung","s":"nm","x":60,"y":78},{"m":"CTLA-4","t":"Lung","s":"nm","x":65,"y":60},{"m":"CTLA-4","t":"Lung","s":"nm","x":70,"y":40},{"m":"CTLA-4","t":"Lung","s":"nm","x":78,"y":20},{"m":"CTLA-4","t":"Lung","s":"nm","x":85,"y":6},{"m":"CTLA-4","t":"Lung","s":"nm","x":92,"y":0},
{"m":"CTLA-4","t":"Lung","s":"m","x":15,"y":0},{"m":"CTLA-4","t":"Lung","s":"m","x":28,"y":5},{"m":"CTLA-4","t":"Lung","s":"m","x":38,"y":25},{"m":"CTLA-4","t":"Lung","s":"m","x":45,"y":45},{"m":"CTLA-4","t":"Lung","s":"m","x":52,"y":70},{"m":"CTLA-4","t":"Lung","s":"m","x":56,"y":80},{"m":"CTLA-4","t":"Lung","s":"m","x":60,"y":76},{"m":"CTLA-4","t":"Lung","s":"m","x":65,"y":82},{"m":"CTLA-4","t":"Lung","s":"m","x":70,"y":78},{"m":"CTLA-4","t":"Lung","s":"m","x":76,"y":66},{"m":"CTLA-4","t":"Lung","s":"m","x":82,"y":40},{"m":"CTLA-4","t":"Lung","s":"m","x":88,"y":20},{"m":"CTLA-4","t":"Lung","s":"m","x":95,"y":6},{"m":"CTLA-4","t":"Lung","s":"m","x":102,"y":0},
{"m":"LFA-1","t":"Spleen","s":"n","x":65,"y":0},{"m":"LFA-1","t":"Spleen","s":"n","x":70,"y":8},{"m":"LFA-1","t":"Spleen","s":"n","x":74,"y":30},{"m":"LFA-1","t":"Spleen","s":"n","x":78,"y":60},{"m":"LFA-1","t":"Spleen","s":"n","x":81,"y":85},{"m":"LFA-1","t":"Spleen","s":"n","x":83,"y":91},{"m":"LFA-1","t":"Spleen","s":"n","x":86,"y":78},{"m":"LFA-1","t":"Spleen","s":"n","x":90,"y":47},{"m":"LFA-1","t":"Spleen","s":"n","x":95,"y":25},{"m":"LFA-1","t":"Spleen","s":"n","x":101,"y":7},{"m":"LFA-1","t":"Spleen","s":"n","x":107,"y":0},
{"m":"LFA-1","t":"Spleen","s":"nm","x":68,"y":0},{"m":"LFA-1","t":"Spleen","s":"nm","x":74,"y":25},{"m":"LFA-1","t":"Spleen","s":"nm","x":78,"y":69},{"m":"LFA-1","t":"Spleen","s":"nm","x":82,"y":85},{"m":"LFA-1","t":"Spleen","s":"nm","x":87,"y":90},{"m":"LFA-1","t":"Spleen","s":"nm","x":93,"y":78},{"m":"LFA-1","t":"Spleen","s":"nm","x":99,"y":58},{"m":"LFA-1","t":"Spleen","s":"nm","x":105,"y":29},{"m":"LFA-1","t":"Spleen","s":"nm","x":110,"y":7},{"m":"LFA-1","t":"Spleen","s":"nm","x":115,"y":0},
{"m":"LFA-1","t":"Spleen","s":"m","x":72,"y":0},{"m":"LFA-1","t":"Spleen","s":"m","x":80,"y":11},{"m":"LFA-1","t":"Spleen","s":"m","x":87,"y":29},{"m":"LFA-1","t":"Spleen","s":"m","x":93,"y":63},{"m":"LFA-1","t":"Spleen","s":"m","x":97,"y":78},{"m":"LFA-1","t":"Spleen","s":"m","x":99,"y":92},{"m":"LFA-1","t":"Spleen","s":"m","x":103,"y":98},{"m":"LFA-1","t":"Spleen","s":"m","x":106,"y":92},{"m":"LFA-1","t":"Spleen","s":"m","x":110,"y":63},{"m":"LFA-1","t":"Spleen","s":"m","x":114,"y":25},{"m":"LFA-1","t":"Spleen","s":"m","x":118,"y":3},{"m":"LFA-1","t":"Spleen","s":"m","x":122,"y":0},
{"m":"LFA-1","t":"pLN","s":"n","x":66,"y":0},{"m":"LFA-1","t":"pLN","s":"n","x":72,"y":10},{"m":"LFA-1","t":"pLN","s":"n","x":77,"y":45},{"m":"LFA-1","t":"pLN","s":"n","x":81,"y":88},{"m":"LFA-1","t":"pLN","s":"n","x":84,"y":90},{"m":"LFA-1","t":"pLN","s":"n","x":87,"y":70},{"m":"LFA-1","t":"pLN","s":"n","x":91,"y":30},{"m":"LFA-1","t":"pLN","s":"n","x":96,"y":12},{"m":"LFA-1","t":"pLN","s":"n","x":102,"y":4},{"m":"LFA-1","t":"pLN","s":"n","x":108,"y":0},
{"m":"LFA-1","t":"pLN","s":"nm","x":67,"y":0},{"m":"LFA-1","t":"pLN","s":"nm","x":73,"y":12},{"m":"LFA-1","t":"pLN","s":"nm","x":78,"y":50},{"m":"LFA-1","t":"pLN","s":"nm","x":82,"y":78},{"m":"LFA-1","t":"pLN","s":"nm","x":86,"y":84},{"m":"LFA-1","t":"pLN","s":"nm","x":91,"y":80},{"m":"LFA-1","t":"pLN","s":"nm","x":96,"y":60},{"m":"LFA-1","t":"pLN","s":"nm","x":101,"y":30},{"m":"LFA-1","t":"pLN","s":"nm","x":106,"y":8},{"m":"LFA-1","t":"pLN","s":"nm","x":111,"y":0},
{"m":"LFA-1","t":"pLN","s":"m","x":72,"y":0},{"m":"LFA-1","t":"pLN","s":"m","x":80,"y":10},{"m":"LFA-1","t":"pLN","s":"m","x":87,"y":30},{"m":"LFA-1","t":"pLN","s":"m","x":93,"y":70},{"m":"LFA-1","t":"pLN","s":"m","x":97,"y":90},{"m":"LFA-1","t":"pLN","s":"m","x":100,"y":99},{"m":"LFA-1","t":"pLN","s":"m","x":103,"y":92},{"m":"LFA-1","t":"pLN","s":"m","x":107,"y":55},{"m":"LFA-1","t":"pLN","s":"m","x":111,"y":20},{"m":"LFA-1","t":"pLN","s":"m","x":115,"y":4},{"m":"LFA-1","t":"pLN","s":"m","x":120,"y":0},
{"m":"LFA-1","t":"mLN","s":"n","x":63,"y":0},{"m":"LFA-1","t":"mLN","s":"n","x":70,"y":12},{"m":"LFA-1","t":"mLN","s":"n","x":74,"y":58},{"m":"LFA-1","t":"mLN","s":"n","x":79,"y":81},{"m":"LFA-1","t":"mLN","s":"n","x":84,"y":83},{"m":"LFA-1","t":"mLN","s":"n","x":89,"y":47},{"m":"LFA-1","t":"mLN","s":"n","x":93,"y":12},{"m":"LFA-1","t":"mLN","s":"n","x":103,"y":1},{"m":"LFA-1","t":"mLN","s":"n","x":106,"y":0},
{"m":"LFA-1","t":"mLN","s":"nm","x":65,"y":0},{"m":"LFA-1","t":"mLN","s":"nm","x":72,"y":15},{"m":"LFA-1","t":"mLN","s":"nm","x":79,"y":69},{"m":"LFA-1","t":"mLN","s":"nm","x":84,"y":92},{"m":"LFA-1","t":"mLN","s":"nm","x":89,"y":85},{"m":"LFA-1","t":"mLN","s":"nm","x":93,"y":76},{"m":"LFA-1","t":"mLN","s":"nm","x":98,"y":58},{"m":"LFA-1","t":"mLN","s":"nm","x":103,"y":28},{"m":"LFA-1","t":"mLN","s":"nm","x":110,"y":8},{"m":"LFA-1","t":"mLN","s":"nm","x":117,"y":1},{"m":"LFA-1","t":"mLN","s":"nm","x":120,"y":0},
{"m":"LFA-1","t":"mLN","s":"m","x":70,"y":0},{"m":"LFA-1","t":"mLN","s":"m","x":74,"y":3},{"m":"LFA-1","t":"mLN","s":"m","x":84,"y":24},{"m":"LFA-1","t":"mLN","s":"m","x":90,"y":58},{"m":"LFA-1","t":"mLN","s":"m","x":95,"y":80},{"m":"LFA-1","t":"mLN","s":"m","x":98,"y":87},{"m":"LFA-1","t":"mLN","s":"m","x":103,"y":69},{"m":"LFA-1","t":"mLN","s":"m","x":108,"y":35},{"m":"LFA-1","t":"mLN","s":"m","x":112,"y":8},{"m":"LFA-1","t":"mLN","s":"m","x":122,"y":1},{"m":"LFA-1","t":"mLN","s":"m","x":125,"y":0},
{"m":"LFA-1","t":"Lung","s":"n","x":66,"y":0},{"m":"LFA-1","t":"Lung","s":"n","x":72,"y":10},{"m":"LFA-1","t":"Lung","s":"n","x":77,"y":45},{"m":"LFA-1","t":"Lung","s":"n","x":81,"y":80},{"m":"LFA-1","t":"Lung","s":"n","x":84,"y":78},{"m":"LFA-1","t":"Lung","s":"n","x":87,"y":60},{"m":"LFA-1","t":"Lung","s":"n","x":91,"y":25},{"m":"LFA-1","t":"Lung","s":"n","x":96,"y":8},{"m":"LFA-1","t":"Lung","s":"n","x":102,"y":2},{"m":"LFA-1","t":"Lung","s":"n","x":108,"y":0},
{"m":"LFA-1","t":"Lung","s":"nm","x":67,"y":0},{"m":"LFA-1","t":"Lung","s":"nm","x":73,"y":12},{"m":"LFA-1","t":"Lung","s":"nm","x":78,"y":50},{"m":"LFA-1","t":"Lung","s":"nm","x":82,"y":75},{"m":"LFA-1","t":"Lung","s":"nm","x":86,"y":83},{"m":"LFA-1","t":"Lung","s":"nm","x":91,"y":80},{"m":"LFA-1","t":"Lung","s":"nm","x":96,"y":60},{"m":"LFA-1","t":"Lung","s":"nm","x":101,"y":28},{"m":"LFA-1","t":"Lung","s":"nm","x":106,"y":6},{"m":"LFA-1","t":"Lung","s":"nm","x":111,"y":0},
{"m":"LFA-1","t":"Lung","s":"m","x":72,"y":0},{"m":"LFA-1","t":"Lung","s":"m","x":80,"y":8},{"m":"LFA-1","t":"Lung","s":"m","x":86,"y":25},{"m":"LFA-1","t":"Lung","s":"m","x":91,"y":60},{"m":"LFA-1","t":"Lung","s":"m","x":95,"y":78},{"m":"LFA-1","t":"Lung","s":"m","x":98,"y":82},{"m":"LFA-1","t":"Lung","s":"m","x":101,"y":90},{"m":"LFA-1","t":"Lung","s":"m","x":104,"y":75},{"m":"LFA-1","t":"Lung","s":"m","x":108,"y":35},{"m":"LFA-1","t":"Lung","s":"m","x":112,"y":8},{"m":"LFA-1","t":"Lung","s":"m","x":118,"y":0},
{"m":"PD-1","t":"Spleen","s":"n","x":7,"y":0},{"m":"PD-1","t":"Spleen","s":"n","x":15,"y":11},{"m":"PD-1","t":"Spleen","s":"n","x":23,"y":47},{"m":"PD-1","t":"Spleen","s":"n","x":30,"y":78},{"m":"PD-1","t":"Spleen","s":"n","x":36,"y":91},{"m":"PD-1","t":"Spleen","s":"n","x":40,"y":78},{"m":"PD-1","t":"Spleen","s":"n","x":46,"y":47},{"m":"PD-1","t":"Spleen","s":"n","x":51,"y":20},{"m":"PD-1","t":"Spleen","s":"n","x":59,"y":4},{"m":"PD-1","t":"Spleen","s":"n","x":72,"y":1},{"m":"PD-1","t":"Spleen","s":"n","x":80,"y":0},
{"m":"PD-1","t":"Spleen","s":"nm","x":6,"y":0},{"m":"PD-1","t":"Spleen","s":"nm","x":15,"y":25},{"m":"PD-1","t":"Spleen","s":"nm","x":23,"y":63},{"m":"PD-1","t":"Spleen","s":"nm","x":30,"y":85},{"m":"PD-1","t":"Spleen","s":"nm","x":36,"y":91},{"m":"PD-1","t":"Spleen","s":"nm","x":42,"y":85},{"m":"PD-1","t":"Spleen","s":"nm","x":46,"y":63},{"m":"PD-1","t":"Spleen","s":"nm","x":49,"y":47},{"m":"PD-1","t":"Spleen","s":"nm","x":57,"y":29},{"m":"PD-1","t":"Spleen","s":"nm","x":65,"y":16},{"m":"PD-1","t":"Spleen","s":"nm","x":76,"y":9},{"m":"PD-1","t":"Spleen","s":"nm","x":84,"y":2},{"m":"PD-1","t":"Spleen","s":"nm","x":88,"y":0},
{"m":"PD-1","t":"Spleen","s":"m","x":4,"y":0},{"m":"PD-1","t":"Spleen","s":"m","x":15,"y":16},{"m":"PD-1","t":"Spleen","s":"m","x":23,"y":47},{"m":"PD-1","t":"Spleen","s":"m","x":32,"y":76},{"m":"PD-1","t":"Spleen","s":"m","x":38,"y":92},{"m":"PD-1","t":"Spleen","s":"m","x":44,"y":90},{"m":"PD-1","t":"Spleen","s":"m","x":49,"y":71},{"m":"PD-1","t":"Spleen","s":"m","x":55,"y":61},{"m":"PD-1","t":"Spleen","s":"m","x":61,"y":66},{"m":"PD-1","t":"Spleen","s":"m","x":67,"y":47},{"m":"PD-1","t":"Spleen","s":"m","x":74,"y":43},{"m":"PD-1","t":"Spleen","s":"m","x":80,"y":38},{"m":"PD-1","t":"Spleen","s":"m","x":86,"y":25},{"m":"PD-1","t":"Spleen","s":"m","x":91,"y":11},{"m":"PD-1","t":"Spleen","s":"m","x":99,"y":1},{"m":"PD-1","t":"Spleen","s":"m","x":104,"y":0},
{"m":"PD-1","t":"pLN","s":"n","x":5,"y":0},{"m":"PD-1","t":"pLN","s":"n","x":15,"y":10},{"m":"PD-1","t":"pLN","s":"n","x":25,"y":50},{"m":"PD-1","t":"pLN","s":"n","x":32,"y":75},{"m":"PD-1","t":"pLN","s":"n","x":35,"y":80},{"m":"PD-1","t":"pLN","s":"n","x":40,"y":60},{"m":"PD-1","t":"pLN","s":"n","x":45,"y":30},{"m":"PD-1","t":"pLN","s":"n","x":52,"y":8},{"m":"PD-1","t":"pLN","s":"n","x":60,"y":2},{"m":"PD-1","t":"pLN","s":"n","x":70,"y":0},
{"m":"PD-1","t":"pLN","s":"nm","x":5,"y":0},{"m":"PD-1","t":"pLN","s":"nm","x":15,"y":12},{"m":"PD-1","t":"pLN","s":"nm","x":25,"y":55},{"m":"PD-1","t":"pLN","s":"nm","x":32,"y":82},{"m":"PD-1","t":"pLN","s":"nm","x":36,"y":87},{"m":"PD-1","t":"pLN","s":"nm","x":40,"y":80},{"m":"PD-1","t":"pLN","s":"nm","x":45,"y":60},{"m":"PD-1","t":"pLN","s":"nm","x":52,"y":40},{"m":"PD-1","t":"pLN","s":"nm","x":60,"y":25},{"m":"PD-1","t":"pLN","s":"nm","x":68,"y":10},{"m":"PD-1","t":"pLN","s":"nm","x":75,"y":3},{"m":"PD-1","t":"pLN","s":"nm","x":80,"y":0},
{"m":"PD-1","t":"pLN","s":"m","x":5,"y":0},{"m":"PD-1","t":"pLN","s":"m","x":15,"y":10},{"m":"PD-1","t":"pLN","s":"m","x":25,"y":40},{"m":"PD-1","t":"pLN","s":"m","x":33,"y":70},{"m":"PD-1","t":"pLN","s":"m","x":40,"y":80},{"m":"PD-1","t":"pLN","s":"m","x":45,"y":82},{"m":"PD-1","t":"pLN","s":"m","x":50,"y":70},{"m":"PD-1","t":"pLN","s":"m","x":58,"y":55},{"m":"PD-1","t":"pLN","s":"m","x":66,"y":40},{"m":"PD-1","t":"pLN","s":"m","x":75,"y":25},{"m":"PD-1","t":"pLN","s":"m","x":85,"y":12},{"m":"PD-1","t":"pLN","s":"m","x":95,"y":3},{"m":"PD-1","t":"pLN","s":"m","x":102,"y":0},
{"m":"PD-1","t":"mLN","s":"n","x":10,"y":0},{"m":"PD-1","t":"mLN","s":"n","x":15,"y":10},{"m":"PD-1","t":"mLN","s":"n","x":22,"y":47},{"m":"PD-1","t":"mLN","s":"n","x":31,"y":87},{"m":"PD-1","t":"mLN","s":"n","x":35,"y":80},{"m":"PD-1","t":"mLN","s":"n","x":41,"y":69},{"m":"PD-1","t":"mLN","s":"n","x":46,"y":24},{"m":"PD-1","t":"mLN","s":"n","x":55,"y":3},{"m":"PD-1","t":"mLN","s":"n","x":79,"y":1},{"m":"PD-1","t":"mLN","s":"n","x":85,"y":0},
{"m":"PD-1","t":"mLN","s":"nm","x":10,"y":0},{"m":"PD-1","t":"mLN","s":"nm","x":15,"y":12},{"m":"PD-1","t":"mLN","s":"nm","x":22,"y":50},{"m":"PD-1","t":"mLN","s":"nm","x":32,"y":88},{"m":"PD-1","t":"mLN","s":"nm","x":36,"y":80},{"m":"PD-1","t":"mLN","s":"nm","x":45,"y":47},{"m":"PD-1","t":"mLN","s":"nm","x":50,"y":24},{"m":"PD-1","t":"mLN","s":"nm","x":58,"y":12},{"m":"PD-1","t":"mLN","s":"nm","x":65,"y":5},{"m":"PD-1","t":"mLN","s":"nm","x":74,"y":1},{"m":"PD-1","t":"mLN","s":"nm","x":80,"y":0},
{"m":"PD-1","t":"mLN","s":"m","x":10,"y":0},{"m":"PD-1","t":"mLN","s":"m","x":15,"y":8},{"m":"PD-1","t":"mLN","s":"m","x":22,"y":40},{"m":"PD-1","t":"mLN","s":"m","x":30,"y":75},{"m":"PD-1","t":"mLN","s":"m","x":36,"y":85},{"m":"PD-1","t":"mLN","s":"m","x":40,"y":75},{"m":"PD-1","t":"mLN","s":"m","x":46,"y":56},{"m":"PD-1","t":"mLN","s":"m","x":55,"y":33},{"m":"PD-1","t":"mLN","s":"m","x":60,"y":32},{"m":"PD-1","t":"mLN","s":"m","x":65,"y":24},{"m":"PD-1","t":"mLN","s":"m","x":74,"y":5},{"m":"PD-1","t":"mLN","s":"m","x":84,"y":1},{"m":"PD-1","t":"mLN","s":"m","x":90,"y":0},
{"m":"PD-1","t":"Lung","s":"n","x":10,"y":0},{"m":"PD-1","t":"Lung","s":"n","x":20,"y":26},{"m":"PD-1","t":"Lung","s":"n","x":27,"y":70},{"m":"PD-1","t":"Lung","s":"n","x":34,"y":93},{"m":"PD-1","t":"Lung","s":"n","x":40,"y":70},{"m":"PD-1","t":"Lung","s":"n","x":45,"y":26},{"m":"PD-1","t":"Lung","s":"n","x":50,"y":8},{"m":"PD-1","t":"Lung","s":"n","x":58,"y":1},{"m":"PD-1","t":"Lung","s":"n","x":65,"y":0},
{"m":"PD-1","t":"Lung","s":"nm","x":10,"y":0},{"m":"PD-1","t":"Lung","s":"nm","x":15,"y":8},{"m":"PD-1","t":"Lung","s":"nm","x":23,"y":41},{"m":"PD-1","t":"Lung","s":"nm","x":30,"y":63},{"m":"PD-1","t":"Lung","s":"nm","x":36,"y":86},{"m":"PD-1","t":"Lung","s":"nm","x":42,"y":63},{"m":"PD-1","t":"Lung","s":"nm","x":48,"y":26},{"m":"PD-1","t":"Lung","s":"nm","x":55,"y":10},{"m":"PD-1","t":"Lung","s":"nm","x":63,"y":3},{"m":"PD-1","t":"Lung","s":"nm","x":75,"y":3},{"m":"PD-1","t":"Lung","s":"nm","x":82,"y":1},{"m":"PD-1","t":"Lung","s":"nm","x":88,"y":0},
{"m":"PD-1","t":"Lung","s":"m","x":10,"y":0},{"m":"PD-1","t":"Lung","s":"m","x":15,"y":3},{"m":"PD-1","t":"Lung","s":"m","x":22,"y":26},{"m":"PD-1","t":"Lung","s":"m","x":27,"y":52},{"m":"PD-1","t":"Lung","s":"m","x":35,"y":65},{"m":"PD-1","t":"Lung","s":"m","x":40,"y":70},{"m":"PD-1","t":"Lung","s":"m","x":43,"y":73},{"m":"PD-1","t":"Lung","s":"m","x":48,"y":55},{"m":"PD-1","t":"Lung","s":"m","x":55,"y":52},{"m":"PD-1","t":"Lung","s":"m","x":65,"y":63},{"m":"PD-1","t":"Lung","s":"m","x":70,"y":43},{"m":"PD-1","t":"Lung","s":"m","x":74,"y":59},{"m":"PD-1","t":"Lung","s":"m","x":80,"y":32},{"m":"PD-1","t":"Lung","s":"m","x":87,"y":21},{"m":"PD-1","t":"Lung","s":"m","x":92,"y":3},{"m":"PD-1","t":"Lung","s":"m","x":97,"y":0},
{"m":"Foxp3","t":"Spleen","s":"n","x":66,"y":0},{"m":"Foxp3","t":"Spleen","s":"n","x":70,"y":10},{"m":"Foxp3","t":"Spleen","s":"n","x":74,"y":25},{"m":"Foxp3","t":"Spleen","s":"n","x":78,"y":47},{"m":"Foxp3","t":"Spleen","s":"n","x":82,"y":69},{"m":"Foxp3","t":"Spleen","s":"n","x":86,"y":88},{"m":"Foxp3","t":"Spleen","s":"n","x":89,"y":84},{"m":"Foxp3","t":"Spleen","s":"n","x":91,"y":78},{"m":"Foxp3","t":"Spleen","s":"n","x":95,"y":40},{"m":"Foxp3","t":"Spleen","s":"n","x":99,"y":11},{"m":"Foxp3","t":"Spleen","s":"n","x":105,"y":0},
{"m":"Foxp3","t":"Spleen","s":"nm","x":66,"y":0},{"m":"Foxp3","t":"Spleen","s":"nm","x":70,"y":10},{"m":"Foxp3","t":"Spleen","s":"nm","x":74,"y":26},{"m":"Foxp3","t":"Spleen","s":"nm","x":78,"y":45},{"m":"Foxp3","t":"Spleen","s":"nm","x":82,"y":65},{"m":"Foxp3","t":"Spleen","s":"nm","x":86,"y":80},{"m":"Foxp3","t":"Spleen","s":"nm","x":88,"y":85},{"m":"Foxp3","t":"Spleen","s":"nm","x":91,"y":80},{"m":"Foxp3","t":"Spleen","s":"nm","x":95,"y":42},{"m":"Foxp3","t":"Spleen","s":"nm","x":99,"y":12},{"m":"Foxp3","t":"Spleen","s":"nm","x":105,"y":0},
{"m":"Foxp3","t":"Spleen","s":"m","x":65,"y":0},{"m":"Foxp3","t":"Spleen","s":"m","x":70,"y":12},{"m":"Foxp3","t":"Spleen","s":"m","x":74,"y":28},{"m":"Foxp3","t":"Spleen","s":"m","x":78,"y":48},{"m":"Foxp3","t":"Spleen","s":"m","x":81,"y":75},{"m":"Foxp3","t":"Spleen","s":"m","x":84,"y":95},{"m":"Foxp3","t":"Spleen","s":"m","x":87,"y":93},{"m":"Foxp3","t":"Spleen","s":"m","x":89,"y":88},{"m":"Foxp3","t":"Spleen","s":"m","x":92,"y":60},{"m":"Foxp3","t":"Spleen","s":"m","x":96,"y":25},{"m":"Foxp3","t":"Spleen","s":"m","x":100,"y":5},{"m":"Foxp3","t":"Spleen","s":"m","x":105,"y":0},
{"m":"Foxp3","t":"pLN","s":"n","x":66,"y":0},{"m":"Foxp3","t":"pLN","s":"n","x":71,"y":10},{"m":"Foxp3","t":"pLN","s":"n","x":76,"y":30},{"m":"Foxp3","t":"pLN","s":"n","x":81,"y":60},{"m":"Foxp3","t":"pLN","s":"n","x":85,"y":80},{"m":"Foxp3","t":"pLN","s":"n","x":88,"y":82},{"m":"Foxp3","t":"pLN","s":"n","x":91,"y":70},{"m":"Foxp3","t":"pLN","s":"n","x":95,"y":35},{"m":"Foxp3","t":"pLN","s":"n","x":99,"y":8},{"m":"Foxp3","t":"pLN","s":"n","x":104,"y":0},
{"m":"Foxp3","t":"pLN","s":"nm","x":66,"y":0},{"m":"Foxp3","t":"pLN","s":"nm","x":71,"y":10},{"m":"Foxp3","t":"pLN","s":"nm","x":76,"y":30},{"m":"Foxp3","t":"pLN","s":"nm","x":81,"y":55},{"m":"Foxp3","t":"pLN","s":"nm","x":85,"y":72},{"m":"Foxp3","t":"pLN","s":"nm","x":89,"y":77},{"m":"Foxp3","t":"pLN","s":"nm","x":92,"y":72},{"m":"Foxp3","t":"pLN","s":"nm","x":96,"y":35},{"m":"Foxp3","t":"pLN","s":"nm","x":100,"y":8},{"m":"Foxp3","t":"pLN","s":"nm","x":105,"y":0},
{"m":"Foxp3","t":"pLN","s":"m","x":66,"y":0},{"m":"Foxp3","t":"pLN","s":"m","x":71,"y":12},{"m":"Foxp3","t":"pLN","s":"m","x":76,"y":35},{"m":"Foxp3","t":"pLN","s":"m","x":81,"y":65},{"m":"Foxp3","t":"pLN","s":"m","x":85,"y":88},{"m":"Foxp3","t":"pLN","s":"m","x":88,"y":86},{"m":"Foxp3","t":"pLN","s":"m","x":91,"y":70},{"m":"Foxp3","t":"pLN","s":"m","x":95,"y":30},{"m":"Foxp3","t":"pLN","s":"m","x":99,"y":6},{"m":"Foxp3","t":"pLN","s":"m","x":103,"y":0},
{"m":"Foxp3","t":"mLN","s":"n","x":66,"y":0},{"m":"Foxp3","t":"mLN","s":"n","x":71,"y":12},{"m":"Foxp3","t":"mLN","s":"n","x":75,"y":28},{"m":"Foxp3","t":"mLN","s":"n","x":79,"y":50},{"m":"Foxp3","t":"mLN","s":"n","x":83,"y":80},{"m":"Foxp3","t":"mLN","s":"n","x":86,"y":92},{"m":"Foxp3","t":"mLN","s":"n","x":89,"y":82},{"m":"Foxp3","t":"mLN","s":"n","x":93,"y":40},{"m":"Foxp3","t":"mLN","s":"n","x":97,"y":8},{"m":"Foxp3","t":"mLN","s":"n","x":102,"y":0},
{"m":"Foxp3","t":"mLN","s":"nm","x":66,"y":0},{"m":"Foxp3","t":"mLN","s":"nm","x":71,"y":10},{"m":"Foxp3","t":"mLN","s":"nm","x":75,"y":24},{"m":"Foxp3","t":"mLN","s":"nm","x":79,"y":45},{"m":"Foxp3","t":"mLN","s":"nm","x":83,"y":72},{"m":"Foxp3","t":"mLN","s":"nm","x":86,"y":84},{"m":"Foxp3","t":"mLN","s":"nm","x":89,"y":80},{"m":"Foxp3","t":"mLN","s":"nm","x":93,"y":42},{"m":"Foxp3","t":"mLN","s":"nm","x":97,"y":9},{"m":"Foxp3","t":"mLN","s":"nm","x":102,"y":0},
{"m":"Foxp3","t":"mLN","s":"m","x":66,"y":0},{"m":"Foxp3","t":"mLN","s":"m","x":71,"y":12},{"m":"Foxp3","t":"mLN","s":"m","x":75,"y":28},{"m":"Foxp3","t":"mLN","s":"m","x":79,"y":50},{"m":"Foxp3","t":"mLN","s":"m","x":83,"y":82},{"m":"Foxp3","t":"mLN","s":"m","x":86,"y":95},{"m":"Foxp3","t":"mLN","s":"m","x":89,"y":83},{"m":"Foxp3","t":"mLN","s":"m","x":93,"y":35},{"m":"Foxp3","t":"mLN","s":"m","x":97,"y":6},{"m":"Foxp3","t":"mLN","s":"m","x":102,"y":0},
{"m":"Foxp3","t":"Lung","s":"n","x":66,"y":0},{"m":"Foxp3","t":"Lung","s":"n","x":72,"y":26},{"m":"Foxp3","t":"Lung","s":"n","x":81,"y":41},{"m":"Foxp3","t":"Lung","s":"n","x":87,"y":59},{"m":"Foxp3","t":"Lung","s":"n","x":92,"y":73},{"m":"Foxp3","t":"Lung","s":"n","x":96,"y":70},{"m":"Foxp3","t":"Lung","s":"n","x":99,"y":37},{"m":"Foxp3","t":"Lung","s":"n","x":102,"y":14},{"m":"Foxp3","t":"Lung","s":"n","x":106,"y":1},{"m":"Foxp3","t":"Lung","s":"n","x":110,"y":0},
{"m":"Foxp3","t":"Lung","s":"nm","x":66,"y":0},{"m":"Foxp3","t":"Lung","s":"nm","x":72,"y":26},{"m":"Foxp3","t":"Lung","s":"nm","x":81,"y":41},{"m":"Foxp3","t":"Lung","s":"nm","x":87,"y":58},{"m":"Foxp3","t":"Lung","s":"nm","x":92,"y":77},{"m":"Foxp3","t":"Lung","s":"nm","x":95,"y":72},{"m":"Foxp3","t":"Lung","s":"nm","x":98,"y":45},{"m":"Foxp3","t":"Lung","s":"nm","x":101,"y":20},{"m":"Foxp3","t":"Lung","s":"nm","x":105,"y":3},{"m":"Foxp3","t":"Lung","s":"nm","x":110,"y":0},
{"m":"Foxp3","t":"Lung","s":"m","x":66,"y":0},{"m":"Foxp3","t":"Lung","s":"m","x":72,"y":26},{"m":"Foxp3","t":"Lung","s":"m","x":81,"y":42},{"m":"Foxp3","t":"Lung","s":"m","x":87,"y":62},{"m":"Foxp3","t":"Lung","s":"m","x":91,"y":87},{"m":"Foxp3","t":"Lung","s":"m","x":94,"y":83},{"m":"Foxp3","t":"Lung","s":"m","x":99,"y":48},{"m":"Foxp3","t":"Lung","s":"m","x":104,"y":14},{"m":"Foxp3","t":"Lung","s":"m","x":107,"y":1},{"m":"Foxp3","t":"Lung","s":"m","x":110,"y":0}
]},
"hconcat": [
 {
  "transform": [{"filter": "datum.m === 'CD25'"}],
  "facet": {
   "row": {"field": "t", "type": "nominal", "title": "B", "sort": ["Spleen","pLN","mLN","Lung"], "header": {"labelAngle": 0, "labelAlign": "left", "labelPadding": 10, "titleAngle": 0, "titleAnchor": "end", "titleBaseline": "bottom", "titleAlign": "left", "titleFontSize": 36, "titleFontWeight": "bold", "titleColor": "#111", "titleFont": "Liberation Sans", "titlePadding": -26}},
   "column": {"field": "m", "type": "nominal", "header": {"title": null, "labelPadding": 7}}
  },
  "spacing": {"row": 17, "column": 2},
  "resolve": {"axis": {"x": "independent", "y": "independent"}},
  "spec": {
   "width": 162, "height": 160,
   "encoding": {
    "x": {"field": "x", "type": "quantitative", "scale": {"domain": [0,162], "nice": false, "zero": false},
          "axis": {"values": [3,8,13,17,21,24,27,30,33,36,39,42,46,50,55,60,65,72,84,91,96,100,103,106,108,110,112,124,131,136,140,143,146,151],
                   "labelExpr": "datum.value===33?'0':datum.value===72?'10³':datum.value===112?'10⁴':datum.value===151?'10⁵':''"}},
    "y": {"field": "y", "type": "quantitative", "scale": {"domain": [-1,106.5], "nice": false},
          "axis": {"values": [0,4,8,12,16,20,24,28,32,36,40,44,48,52,56,60,64,68,72,76,80,84,88,92,96,100,104], "labelFontSize": 8.5, "labelExpr": "datum.value % 20 === 0 ? datum.label : ''"}}
   },
   "layer": [
    {"transform": [{"filter": "datum.s === 'n'"}], "mark": {"type": "area", "color": "#d9dade", "clip": true}},
    {"transform": [{"filter": "datum.s === 'n'"}], "mark": {"type": "line", "color": "#b3b5b9", "strokeWidth": 1.5, "clip": true}},
    {"transform": [{"filter": "datum.s === 'nm'"}], "mark": {"type": "line", "color": "#111", "strokeWidth": 2.2, "strokeDash": [5,3], "clip": true}},
    {"transform": [{"filter": "datum.s === 'm'"}], "mark": {"type": "line", "color": "#111", "strokeWidth": 2.2, "clip": true}},
    {"mark": {"type": "point", "filled": true, "opacity": 0, "clip": true},
     "encoding": {
      "color": {"field": "s", "type": "nominal", "scale": {"domain": ["n","nm","m"], "range": ["#c2c4c7","#111111","#111111"]},
       "legend": {"orient": "none", "legendX": 462, "legendY": 795, "direction": "horizontal", "title": null, "symbolSize": 900, "symbolOpacity": 1, "labelFontSize": 24, "labelFont": "Liberation Sans", "labelColor": "#222", "labelOffset": 9, "columnPadding": 27,
        "labelExpr": "datum.label === 'n' ? 'nTregs' : datum.label === 'nm' ? 'nmTregs' : 'mTregs'"}},
      "shape": {"field": "s", "type": "nominal", "scale": {"domain": ["n","nm","m"], "range": ["M-1,-0.5H1V0.5H-1Z", "M-1,-0.13H-0.5V0.13H-1Z M-0.25,-0.13H0.25V0.13H-0.25Z M0.5,-0.13H1V0.13H0.5Z", "M-1,-0.13H1V0.13H-1Z"]},
       "legend": {"orient": "none", "legendX": 462, "legendY": 795, "direction": "horizontal", "title": null, "symbolSize": 900, "symbolOpacity": 1, "labelFontSize": 24, "labelFont": "Liberation Sans", "labelColor": "#222", "labelOffset": 9, "columnPadding": 27,
        "labelExpr": "datum.label === 'n' ? 'nTregs' : datum.label === 'nm' ? 'nmTregs' : 'mTregs'"}}
     }}
   ]
  }
 },
 {
  "transform": [{"filter": "datum.m !== 'CD25' && datum.m !== 'Foxp3'"}],
  "facet": {
   "row": {"field": "t", "type": "nominal", "sort": ["Spleen","pLN","mLN","Lung"], "header": {"title": null, "labels": false}},
   "column": {"field": "m", "type": "nominal", "sort": ["CD39","CD69","CD103","CTLA-4","LFA-1","PD-1"], "header": {"title": null, "labelPadding": 7}}
  },
  "spacing": {"row": 17, "column": 2},
  "resolve": {"axis": {"x": "independent", "y": "independent"}},
  "spec": {
   "width": 162, "height": 160,
   "encoding": {
    "x": {"field": "x", "type": "quantitative", "scale": {"domain": [0,162], "nice": false, "zero": false},
          "axis": {"values": [2,6,10,14,17,20,22,24,26,28,31,35,40,46,52,58,64,69,73,77,81,92,98,103,106,109,111,113,115,117,128,134,139,142,145,147,152],
                   "labelExpr": "datum.value===24?'0':datum.value===81?'10³':datum.value===117?'10⁴':datum.value===152?'10⁵':''"}},
    "y": {"field": "y", "type": "quantitative", "scale": {"domain": [-1,106.5], "nice": false},
          "axis": {"values": [0,4,8,12,16,20,24,28,32,36,40,44,48,52,56,60,64,68,72,76,80,84,88,92,96,100,104], "labels": false}}
   },
   "layer": [
    {"transform": [{"filter": "datum.s === 'n'"}], "mark": {"type": "area", "color": "#d9dade", "clip": true}},
    {"transform": [{"filter": "datum.s === 'n'"}], "mark": {"type": "line", "color": "#b3b5b9", "strokeWidth": 1.5, "clip": true}},
    {"transform": [{"filter": "datum.s === 'nm'"}], "mark": {"type": "line", "color": "#111", "strokeWidth": 2.2, "strokeDash": [5,3], "clip": true}},
    {"transform": [{"filter": "datum.s === 'm'"}], "mark": {"type": "line", "color": "#111", "strokeWidth": 2.2, "clip": true}}
   ]
  }
 },
 {
  "transform": [{"filter": "datum.m === 'Foxp3'"}],
  "facet": {
   "row": {"field": "t", "type": "nominal", "sort": ["Spleen","pLN","mLN","Lung"], "header": {"title": null, "labels": false}},
   "column": {"field": "m", "type": "nominal", "header": {"title": null, "labelPadding": 7}}
  },
  "spacing": {"row": 17, "column": 2},
  "resolve": {"axis": {"x": "independent", "y": "independent"}},
  "spec": {
   "width": 162, "height": 160,
   "encoding": {
    "x": {"field": "x", "type": "quantitative", "scale": {"domain": [0,162], "nice": false, "zero": false},
          "axis": {"values": [2,5,8,11,15,19,23,27,30,33,36,39,42,45,49,53,58,63,68,81,88,93,97,100,103,105,107,110,122,129,133,137,140,143,148],
                   "labelExpr": "datum.value===11?'-10³':datum.value===36?'0':datum.value===68?'10³':datum.value===110?'10⁴':datum.value===148?'10⁵':''"}},
    "y": {"field": "y", "type": "quantitative", "scale": {"domain": [-1,106.5], "nice": false},
          "axis": {"values": [0,4,8,12,16,20,24,28,32,36,40,44,48,52,56,60,64,68,72,76,80,84,88,92,96,100,104], "labels": false}}
   },
   "layer": [
    {"transform": [{"filter": "datum.s === 'n'"}], "mark": {"type": "area", "color": "#d9dade", "clip": true}},
    {"transform": [{"filter": "datum.s === 'n'"}], "mark": {"type": "line", "color": "#b3b5b9", "strokeWidth": 1.5, "clip": true}},
    {"transform": [{"filter": "datum.s === 'nm'"}], "mark": {"type": "line", "color": "#111", "strokeWidth": 2.2, "strokeDash": [5,3], "clip": true}},
    {"transform": [{"filter": "datum.s === 'm'"}], "mark": {"type": "line", "color": "#111", "strokeWidth": 2.2, "clip": true}}
   ]
  }
 }
],
"spacing": 1
}
